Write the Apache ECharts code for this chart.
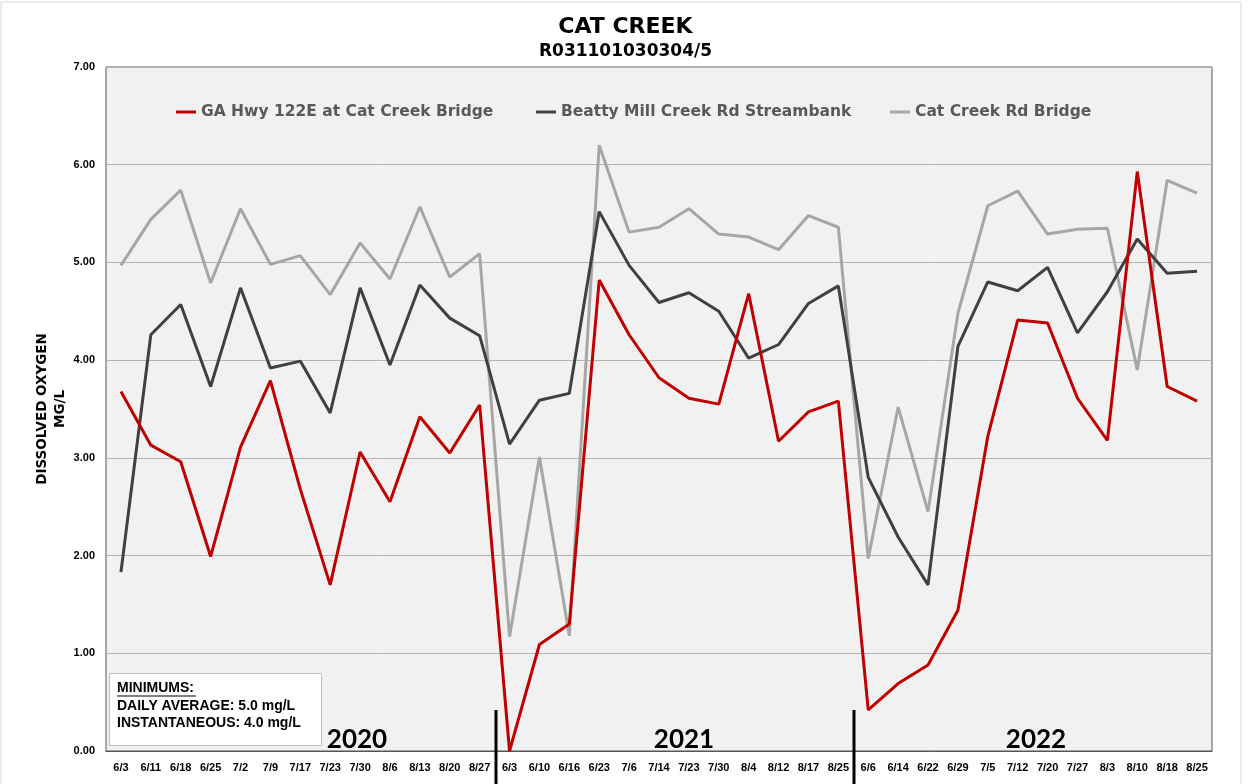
<!DOCTYPE html>
<html>
<head>
<meta charset="utf-8">
<script src="https://cdn.jsdelivr.net/npm/echarts@6/dist/echarts.min.js"></script>
<style>
  html, body { margin: 0; padding: 0; background: #fff; }
  #chart { width: 1251px; height: 784px; }
</style>
</head>
<body>
<div id="chart"></div>
<script>
// sampling dates (three seasons)
const dates2020 = ['6/3', '6/11', '6/18', '6/25', '7/2', '7/9', '7/17', '7/23', '7/30', '8/6', '8/13', '8/20', '8/27']
const dates2021 = ['6/3', '6/10', '6/16', '6/23', '7/6', '7/14', '7/23', '7/30', '8/4', '8/12', '8/17', '8/25']
const dates2022 = ['6/6', '6/14', '6/22', '6/29', '7/5', '7/12', '7/20', '7/27', '8/3', '8/10', '8/18', '8/25']
const categories = [...dates2020, ...dates2021, ...dates2022]

const yearLabels = ['2020', '2021', '2022']
const yTicks = [0, 1, 2, 3, 4, 5, 6, 7]

// dissolved oxygen, mg/L
const hwy122e = [
  3.68, 3.13, 2.96, 1.99, 3.11, 3.79, 2.68, 1.70, 3.06, 2.55, 3.42, 3.05, 3.54,
  0.00, 1.09, 1.30, 4.82, 4.26, 3.82, 3.61, 3.55, 4.68, 3.17, 3.47, 3.58,
  0.42, 0.69, 0.88, 1.44, 3.22, 4.41, 4.38, 3.61, 3.18, 5.93, 3.73, 3.58
]
const beattyMill = [
  1.83, 4.26, 4.57, 3.73, 4.74, 3.92, 3.99, 3.46, 4.74, 3.95, 4.77, 4.43, 4.25,
  3.14, 3.59, 3.66, 5.52, 4.97, 4.59, 4.69, 4.50, 4.02, 4.16, 4.58, 4.76,
  2.80, 2.19, 1.70, 4.14, 4.80, 4.71, 4.95, 4.28, 4.70, 5.24, 4.89, 4.91
]
const catCreekRd = [
  4.97, 5.44, 5.74, 4.79, 5.55, 4.98, 5.07, 4.67, 5.20, 4.83, 5.57, 4.85, 5.09,
  1.17, 3.01, 1.18, 6.20, 5.31, 5.36, 5.55, 5.29, 5.26, 5.13, 5.48, 5.36,
  1.97, 3.52, 2.45, 4.48, 5.58, 5.73, 5.29, 5.34, 5.35, 3.90, 5.84, 5.71
]

const seriesNames = ['GA Hwy 122E at Cat Creek Bridge', 'Beatty Mill Creek Rd Streambank', 'Cat Creek Rd Bridge']
const seriesColors = ['#c00000', '#404040', '#a6a6a6']

const sans = '"Liberation Sans", Arial, sans-serif'
const heavy = '"DejaVu Sans", sans-serif'

const chart = echarts.init(document.getElementById('chart'))

const legendStyle = (name, left) => ({
  data: [name],
  left: left,
  top: 104,
  padding: 0,
  icon: 'rect',
  itemWidth: 20,
  itemHeight: 3,
  textStyle: { color: '#595959', fontSize: 15.5, fontWeight: 'bold', fontFamily: heavy },
})

chart.setOption({
  backgroundColor: '#fff',
  animation: false,
  title: {
    text: 'CAT CREEK',
    subtext: 'R031101030304/5',
    left: 'center',
    top: 11,
    itemGap: 5,
    textStyle: { fontSize: 22, fontWeight: 'bold', color: '#000', fontFamily: heavy },
    subtextStyle: { fontSize: 17, fontWeight: 'bold', color: '#000', fontFamily: heavy },
  },
  legend: [
    legendStyle(seriesNames[0], 176),
    legendStyle(seriesNames[1], 536),
    legendStyle(seriesNames[2], 890),
  ],
  grid: {
    left: 106, right: 39, top: 67, bottom: 33,
    show: true,
    backgroundColor: '#f1f1f1',
    borderColor: '#555',
    borderWidth: 1,
  },
  xAxis: {
    type: 'category',
    data: categories,
    boundaryGap: true,
    axisTick: { show: false },
    axisLine: { lineStyle: { color: '#555', width: 1 } },
    axisLabel: { interval: 0, color: '#000', fontSize: 11, fontWeight: 'bold', fontFamily: sans, margin: 11 },
  },
  yAxis: {
    type: 'value',
    min: yTicks[0],
    max: yTicks[yTicks.length - 1],
    interval: 1,
    name: 'DISSOLVED OXYGEN\nMG/L',
    nameLocation: 'middle',
    nameGap: 37,
    nameMoveOverlap: false,
    nameTextStyle: { color: '#000', fontSize: 13.5, fontWeight: 'bold', fontFamily: heavy, lineHeight: 18 },
    axisLine: { show: false },
    axisTick: { show: false },
    axisLabel: { formatter: v => v.toFixed(2), color: '#000', fontSize: 11, fontWeight: 'bold', fontFamily: sans, margin: 11 },
    splitLine: { lineStyle: { color: '#b4b4b4', width: 1 } },
  },
  series: [hwy122e, beattyMill, catCreekRd].map((d, i) => ({
    name: seriesNames[i],
    type: 'line',
    data: d,
    symbol: 'none',
    color: seriesColors[i],
    lineStyle: { width: 3, color: seriesColors[i] },
    z: 10 - i,
  })),
})

// season separators, year labels, minimums box
const sepX = [dates2020.length, dates2020.length + dates2021.length].map(n => {
  const a = chart.convertToPixel({ xAxisIndex: 0 }, n - 1)
  const b = chart.convertToPixel({ xAxisIndex: 0 }, n)
  return Math.round((a + b) / 2) + 1
})
const yearX = [357, 684, 1036]

const boxText = (text, y) => ({
  type: 'text', x: 117, y: y, z: 101,
  style: { text: text, fill: '#000', fontSize: 14, fontWeight: 'bold', fontFamily: sans, verticalAlign: 'bottom' },
})

chart.setOption({
  graphic: [
    { type: 'rect', shape: { x: 1, y: 2, width: 1240, height: 790 }, style: { fill: 'none', stroke: '#d9d9d9', lineWidth: 1 }, silent: true, z: -1 },
    ...sepX.map(x => ({
      type: 'line', shape: { x1: x, y1: 710, x2: x, y2: 784 }, style: { stroke: '#000', lineWidth: 3 }, z: 100,
    })),
    ...yearLabels.map((t, i) => ({
      type: 'text', x: yearX[i], y: 753, z: 100,
      style: { text: t, fill: '#000', fontSize: 26, fontWeight: 'bold', fontFamily: 'Lato', align: 'center', verticalAlign: 'bottom' },
    })),
    { type: 'rect', shape: { x: 109.5, y: 673.5, width: 212, height: 72 }, style: { fill: '#fff', stroke: '#bfbfbf', lineWidth: 1 }, z: 100 },
    boxText('MINIMUMS:', 695),
    { type: 'line', shape: { x1: 117, y1: 696, x2: 196, y2: 696 }, style: { stroke: '#000', lineWidth: 1.2 }, z: 101 },
    boxText('DAILY AVERAGE: 5.0 mg/L', 713),
    boxText('INSTANTANEOUS: 4.0 mg/L', 730),
  ],
})
</script>
</body>
</html>
